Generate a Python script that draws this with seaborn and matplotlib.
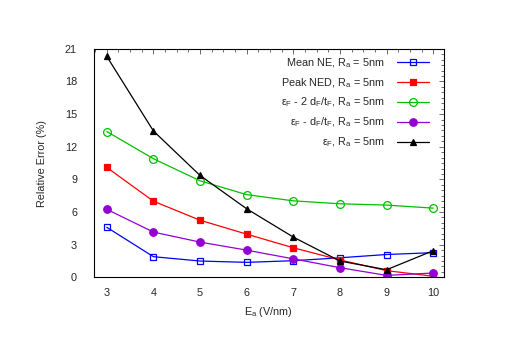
import pandas as pd
import seaborn as sns
import matplotlib.pyplot as plt
from matplotlib.ticker import MultipleLocator

# === data ===
ea = [3, 4, 5, 6, 7, 8, 9, 10]
mean_ne = [4.6, 1.9, 1.5, 1.38, 1.53, 1.8, 2.1, 2.27]
peak_ned = [10.1, 7.0, 5.25, 3.97, 2.72, 1.6, 0.62, 0.1]
eps_2d = [13.4, 10.9, 8.87, 7.6, 7.03, 6.76, 6.64, 6.36]
eps_d = [6.25, 4.16, 3.24, 2.5, 1.7, 0.89, 0.18, 0.4]
eps_f = [20.3, 13.45, 9.36, 6.3, 3.7, 1.5, 0.7, 2.45]

labels = [
    r"Mean NE, R$_\mathregular{a}$ = 5nm",
    r"Peak NED, R$_\mathregular{a}$ = 5nm",
    r"ε$_\mathregular{F}$ - 2 d$_\mathregular{F}$/t$_\mathregular{F}$, R$_\mathregular{a}$ = 5nm",
    r"ε$_\mathregular{F}$ - d$_\mathregular{F}$/t$_\mathregular{F}$, R$_\mathregular{a}$ = 5nm",
    r"ε$_\mathregular{F}$, R$_\mathregular{a}$ = 5nm",
]
series = [mean_ne, peak_ned, eps_2d, eps_d, eps_f]

# === style ===
sns.set_style("white")
plt.rcParams["font.family"] = ["Liberation Sans", "DejaVu Sans"]
plt.rcParams["mathtext.fontset"] = "custom"
plt.rcParams["mathtext.rm"] = "Liberation Sans"
plt.rcParams["font.size"] = 7.8

colors = ["#0000ff", "#ff0000", "#00c000", "#9400d3", "#000000"]
markers = ["s", "s", "o", "o", "^"]
filled = [False, True, False, True, True]
msizes = [4.8, 4.8, 5.6, 5.4, 5]

fig = plt.figure(figsize=(5.15, 3.64), dpi=100)
ax = fig.add_axes([0.182, 0.238, 0.680, 0.628])

for vals, lab, c, m, f, ms in zip(series, labels, colors, markers, filled, msizes):
    df = pd.DataFrame({"Ea": ea, "err": vals})
    sns.lineplot(
        data=df, x="Ea", y="err", ax=ax, label=lab,
        color=c, marker=m, markersize=ms, linewidth=0.9,
        markerfacecolor=c if f else "none", markeredgecolor=c,
        markeredgewidth=0.9,
    )

ax.set_xlim(2.72, 10.23)
ax.set_ylim(0, 21)
ax.xaxis.set_major_locator(MultipleLocator(1))
ax.xaxis.set_minor_locator(MultipleLocator(0.25))
ax.yaxis.set_major_locator(MultipleLocator(3))
ax.yaxis.set_minor_locator(MultipleLocator(0.5))
ax.tick_params(which="both", direction="in", top=True, right=True,
               color="#555555", width=0.6, labelsize=7.8)
ax.tick_params(which="major", length=3.5)
ax.tick_params(which="minor", length=2)
ax.tick_params(axis="y", which="major", pad=12)
ax.tick_params(axis="x", which="major", pad=8)
for sp in ax.spines.values():
    sp.set_color("black")
    sp.set_linewidth(0.8)

ax.set_xlabel(r"E$_\mathregular{a}$ (V/nm)", fontsize=7.8, labelpad=5)
ax.set_ylabel("Relative Error (%)", fontsize=7.8, labelpad=13)

ax.legend(
    loc="upper right", bbox_to_anchor=(0.958, 0.968), frameon=False,
    markerfirst=False, fontsize=7.8, handlelength=3.0, handletextpad=1.1,
    labelspacing=0.58, borderpad=0, borderaxespad=0,
)

plt.savefig("out.png", dpi=100)
